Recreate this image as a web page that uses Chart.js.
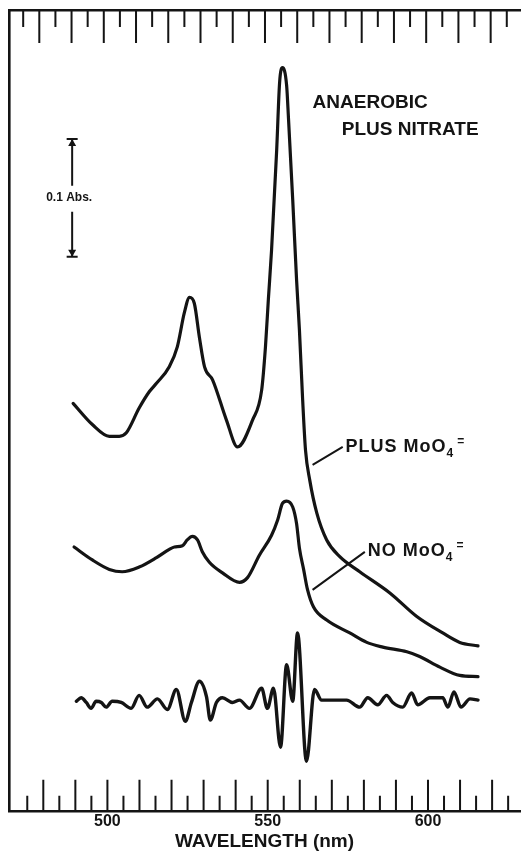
<!DOCTYPE html>
<html>
<head>
<meta charset="utf-8">
<script src="https://cdn.jsdelivr.net/npm/chart.js@4.4.0/dist/chart.umd.min.js"></script>
<style>
    html, body { margin: 0; padding: 0; background: #fff; }
    canvas { display: block; }
</style>
</head>
<body>
<canvas id="spectrumChart" width="521" height="853"></canvas>
<script>
// Spectra: wavelength in nm, absorbance in Abs
const plusWavelength = [489.3, 495.3, 500.6, 503.7, 505.9, 509.9, 513.1, 515.3, 519.3, 521.8,
    524.0, 525.6, 527.1, 528.7, 530.3, 532.8, 537.1, 540.6, 545.3, 548.1,
    549.3, 550.2, 551.2, 552.8, 553.7, 554.6, 555.9, 556.5, 557.8, 559.0,
    559.9, 560.9, 561.8, 563.1, 565.3, 568.4, 572.4, 578.7, 588.1, 596.5,
    604.6, 609.9, 615.6];
const plusAbs = [0.346, 0.328, 0.318, 0.318, 0.321, 0.342, 0.356, 0.363, 0.377, 0.394,
    0.423, 0.436, 0.431, 0.402, 0.377, 0.366, 0.332, 0.309, 0.332, 0.357,
    0.394, 0.434, 0.476, 0.561, 0.618, 0.631, 0.616, 0.587, 0.519, 0.451,
    0.408, 0.349, 0.306, 0.281, 0.253, 0.230, 0.216, 0.203, 0.185, 0.165,
    0.151, 0.143, 0.140];

const noWavelength = [489.6, 495.3, 500.6, 504.6, 509.9, 515.3, 519.3, 520.9, 523.4, 524.9,
    526.5, 528.1, 529.6, 531.8, 535.9, 541.2, 543.7, 547.4, 551.2, 553.1,
    554.6, 555.9, 557.8, 559.0, 559.9, 561.2, 562.4, 564.3, 568.4, 575.6,
    580.9, 585.9, 593.4, 597.4, 603.7, 609.9, 615.6];
const noAbs = [0.224, 0.213, 0.205, 0.203, 0.207, 0.215, 0.222, 0.224, 0.225, 0.230,
    0.233, 0.230, 0.220, 0.211, 0.202, 0.194, 0.198, 0.217, 0.234, 0.247,
    0.261, 0.263, 0.258, 0.244, 0.223, 0.205, 0.188, 0.173, 0.162, 0.151,
    0.143, 0.139, 0.135, 0.131, 0.122, 0.115, 0.114];

// difference trace at the bottom
const diffWavelength = [490.3, 491.8, 493.4, 494.9, 496.5, 498.1, 499.6, 501.5, 504.3, 507.4,
    509.9, 512.4, 515.6, 518.7, 521.5, 524.3, 526.2, 528.7, 530.9, 532.1,
    534.0, 535.9, 539.0, 541.2, 544.3, 548.1, 549.9, 551.8, 554.0, 555.9,
    557.8, 559.3, 562.1, 564.6, 566.8, 570.3, 574.6, 578.7, 581.2, 584.3,
    587.1, 589.0, 592.1, 594.9, 596.8, 600.6, 604.6, 606.2, 608.1, 610.3,
    613.1, 615.6];
const diffAbs = [0.093, 0.096, 0.092, 0.087, 0.093, 0.092, 0.088, 0.093, 0.092, 0.087,
    0.098, 0.088, 0.095, 0.086, 0.103, 0.076, 0.092, 0.110, 0.097, 0.077,
    0.092, 0.096, 0.092, 0.094, 0.087, 0.104, 0.087, 0.104, 0.054, 0.124,
    0.093, 0.151, 0.042, 0.103, 0.094, 0.094, 0.094, 0.088, 0.096, 0.090,
    0.098, 0.092, 0.088, 0.100, 0.090, 0.096, 0.096, 0.088, 0.101, 0.088,
    0.095, 0.094];

const xLabels = [500, 550, 600];

const ink = '#141414';
const bold = (size) => `bold ${size}px "Liberation Sans", Arial, sans-serif`;

function toPoints(xs, ys) {
    return xs.map((v, i) => ({ x: v, y: ys[i] }));
}

// formula label like "PLUS MoO4=" with subscript and superscript
function drawFormula(ctx, x, y, main, sub, sup) {
    ctx.font = bold(18);
    ctx.letterSpacing = '1px';
    ctx.fillText(main, x, y);
    const w = ctx.measureText(main).width;
    ctx.font = bold(12);
    ctx.letterSpacing = '0px';
    ctx.fillText(sub, x + w, y + 5);
    const w2 = ctx.measureText(sub).width;
    ctx.fillText(sup, x + w + w2 + 4, y - 7);
}

const figureMarks = {
    id: 'figureMarks',
    afterDatasetsDraw(chart) {
        const { ctx, chartArea: area, scales: { x, xTop, y } } = chart;
        ctx.save();
        ctx.strokeStyle = ink;
        ctx.fillStyle = ink;

        // inward ticks every 5 nm, longer every 10 nm
        ctx.lineWidth = 2;
        ctx.beginPath();
        for (let nm = 475; nm <= 625; nm += 5) {
            const major = nm % 10 === 0;
            const xb = x.getPixelForValue(nm);
            ctx.moveTo(xb, area.bottom);
            ctx.lineTo(xb, area.bottom - (major ? 31 : 15));
            const xt = xTop.getPixelForValue(nm);
            ctx.moveTo(xt, area.top);
            ctx.lineTo(xt, area.top + (major ? 33 : 17));
        }
        ctx.stroke();

        // 0.1 Abs scale bar
        const bx = x.getPixelForValue(489.0);
        const yHi = y.getPixelForValue(0.5705);
        const yLo = y.getPixelForValue(0.4705);
        const yMid = (yHi + yLo) / 2;
        ctx.lineWidth = 2;
        ctx.beginPath();
        ctx.moveTo(bx - 5.5, yHi); ctx.lineTo(bx + 5.5, yHi);
        ctx.moveTo(bx - 5.5, yLo); ctx.lineTo(bx + 5.5, yLo);
        ctx.moveTo(bx, yHi); ctx.lineTo(bx, yMid - 12);
        ctx.moveTo(bx, yMid + 14); ctx.lineTo(bx, yLo);
        ctx.stroke();
        ctx.beginPath();
        ctx.moveTo(bx, yHi); ctx.lineTo(bx - 4, yHi + 7); ctx.lineTo(bx + 4, yHi + 7); ctx.closePath();
        ctx.moveTo(bx, yLo); ctx.lineTo(bx - 4, yLo - 7); ctx.lineTo(bx + 4, yLo - 7); ctx.closePath();
        ctx.fill();
        ctx.font = bold(12);
        ctx.textAlign = 'center';
        ctx.textBaseline = 'middle';
        ctx.fillText('0.1 Abs.', bx - 3, yMid);

        // title block
        ctx.textAlign = 'left';
        ctx.textBaseline = 'alphabetic';
        ctx.font = bold(19);
        ctx.fillText('ANAEROBIC', x.getPixelForValue(564.0), y.getPixelForValue(0.5968));
        ctx.fillText('PLUS NITRATE', x.getPixelForValue(573.1), y.getPixelForValue(0.5739));

        // curve labels with leader lines
        ctx.lineWidth = 2;
        ctx.beginPath();
        ctx.moveTo(x.getPixelForValue(564.0), y.getPixelForValue(0.2937));
        ctx.lineTo(x.getPixelForValue(573.4), y.getPixelForValue(0.3090));
        ctx.moveTo(x.getPixelForValue(564.0), y.getPixelForValue(0.1876));
        ctx.lineTo(x.getPixelForValue(580.3), y.getPixelForValue(0.2199));
        ctx.stroke();
        drawFormula(ctx, x.getPixelForValue(574.3), y.getPixelForValue(0.3048), 'PLUS MoO', '4', '=');
        drawFormula(ctx, x.getPixelForValue(581.2), y.getPixelForValue(0.2165), 'NO MoO', '4', '=');

        ctx.restore();
    }
};

const traceStyle = {
    borderColor: ink,
    pointRadius: 0,
    pointHoverRadius: 0,
    cubicInterpolationMode: 'monotone',
    borderCapStyle: 'round',
    borderJoinStyle: 'round'
};

new Chart(document.getElementById('spectrumChart'), {
    type: 'line',
    data: {
        datasets: [
            { ...traceStyle, label: 'PLUS MoO4=', data: toPoints(plusWavelength, plusAbs), borderWidth: 3.2 },
            { ...traceStyle, label: 'NO MoO4=', data: toPoints(noWavelength, noAbs), borderWidth: 3.2 },
            { ...traceStyle, label: 'difference', data: toPoints(diffWavelength, diffAbs), borderWidth: 3.4 }
        ]
    },
    options: {
        responsive: false,
        animation: false,
        layout: { autoPadding: false, padding: { left: 9, top: 10, right: 0, bottom: 0 } },
        plugins: {
            legend: { display: false },
            tooltip: { enabled: false }
        },
        scales: {
            x: {
                type: 'linear',
                position: 'bottom',
                min: 469.3,
                max: 628.7,
                grid: { display: false, drawTicks: false },
                border: { color: ink, width: 2.6 },
                ticks: {
                    stepSize: 50,
                    autoSkip: false,
                    maxRotation: 0,
                    padding: 1,
                    color: ink,
                    font: { family: '"Liberation Sans", Arial, sans-serif', size: 16, weight: 'bold' },
                    callback: (v) => xLabels.includes(v) ? String(v) : ''
                },
                title: {
                    display: true,
                    text: 'WAVELENGTH (nm)',
                    color: ink,
                    font: { family: '"Liberation Sans", Arial, sans-serif', size: 19, weight: 'bold', lineHeight: 1 },
                    padding: { top: 0, bottom: 2 }
                }
            },
            xTop: {
                type: 'linear',
                position: 'top',
                min: 470.6,
                max: 629.1,
                grid: { display: false, drawTicks: false },
                ticks: { display: false },
                border: { color: ink, width: 2.6 }
            },
            y: {
                min: 0,
                max: 0.68,
                grid: { display: false, drawTicks: false },
                ticks: { display: false },
                border: { color: ink, width: 2.6 }
            }
        }
    },
    plugins: [figureMarks]
});
</script>
</body>
</html>
